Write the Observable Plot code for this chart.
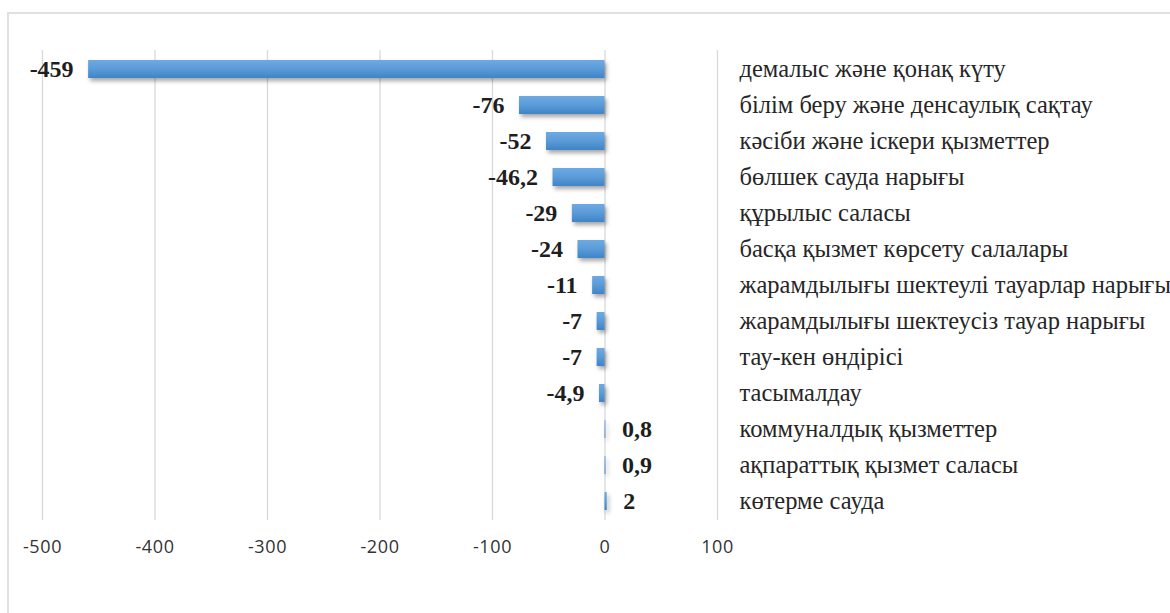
<!DOCTYPE html>
<html>
<head>
<meta charset="utf-8">
<script src="https://cdn.jsdelivr.net/npm/d3@7"></script>
<script src="https://cdn.jsdelivr.net/npm/@observablehq/plot@0.6"></script>
<style>
  html, body { margin: 0; padding: 0; background: #fff; overflow: hidden; }
  #wrap { position: relative; width: 1170px; height: 613px; overflow: hidden; }
  #frame { position: absolute; left: 7px; top: 12px; right: -10px; bottom: -10px; border: 2px solid #e0e0e0; }
  #chart { position: absolute; left: 0; top: 0; }
  #chart svg text { font-family: 'Liberation Serif', 'Times New Roman', serif; }
  #chart svg g[aria-label="x-axis tick label"] text { font-family: 'Open Sans', sans-serif; letter-spacing: 0.6px; }
</style>
</head>
<body>
<div id="wrap"><div id="frame"></div><div id="chart"></div></div>
<script>
const categories = [
  "демалыс және қонақ күту",
  "білім беру және денсаулық сақтау",
  "кәсіби және іскери қызметтер",
  "бөлшек сауда нарығы",
  "құрылыс саласы",
  "басқа қызмет көрсету салалары",
  "жарамдылығы шектеулі тауарлар нарығы",
  "жарамдылығы шектеусіз тауар нарығы",
  "тау-кен өндірісі",
  "тасымалдау",
  "коммуналдық қызметтер",
  "ақпараттық қызмет саласы",
  "көтерме сауда"
];
const values = [-459, -76, -52, -46.2, -29, -24, -11, -7, -7, -4.9, 0.8, 0.9, 2];
const xTicks = [-500, -400, -300, -200, -100, 0, 100];

const data = categories.map((c, i) => ({category: c, value: values[i], label: String(values[i]).replace(".", ",")}));
const serif = "Liberation Serif";

const defs = () => {
  const ns = "http://www.w3.org/2000/svg";
  const d = document.createElementNS(ns, "defs");
  const g = document.createElementNS(ns, "linearGradient");
  g.setAttribute("id", "barGrad");
  g.setAttribute("x1", "0"); g.setAttribute("y1", "0");
  g.setAttribute("x2", "0"); g.setAttribute("y2", "1");
  [["0%", "#6eaae2"], ["50%", "#5a9bd8"], ["100%", "#3f84c7"]].forEach(([o, c]) => {
    const s = document.createElementNS(ns, "stop");
    s.setAttribute("offset", o); s.setAttribute("stop-color", c);
    g.appendChild(s);
  });
  d.appendChild(g);
  return d;
};

const chart = Plot.plot({
  width: 1170,
  height: 613,
  marginLeft: 42,
  marginRight: 453,
  marginTop: 50,
  marginBottom: 93,
  style: {background: "transparent", overflow: "visible"},
  x: {domain: [-500, 100], ticks: xTicks},
  y: {domain: categories, padding: 0},
  marks: [
    defs,
    Plot.gridX(xTicks, {stroke: "#d9d9d9", strokeOpacity: 1, strokeWidth: 1.3}),
    Plot.barX(data, {x: "value", y: "category", fill: "url(#barGrad)", insetTop: 9, insetBottom: 9}),
    Plot.text(data.filter(d => d.value < 0), {x: "value", y: "category", text: "label", textAnchor: "end", dx: -15,
      fontFamily: serif, fontWeight: "bold", fontSize: 24, fill: "#1e1e1e"}),
    Plot.text(data.filter(d => d.value >= 0), {x: "value", y: "category", text: "label", textAnchor: "start", dx: 16,
      fontFamily: serif, fontWeight: "bold", fontSize: 24, fill: "#1e1e1e"}),
    Plot.axisX(xTicks, {anchor: "bottom", tickSize: 0, tickPadding: 20, tickFormat: d => String(d),
      fontSize: 18, fill: "#333", label: null}),
    Plot.axisY({anchor: "right", tickSize: 0, tickPadding: 22, label: null,
      fontSize: 24.5, fill: "#262626"})
  ]
});
const bars = chart.querySelector("g[aria-label=bar]");
if (bars) bars.style.filter = "drop-shadow(2px 3px 2px rgba(0,0,0,0.35))";
document.getElementById("chart").appendChild(chart);
</script>
</body>
</html>
